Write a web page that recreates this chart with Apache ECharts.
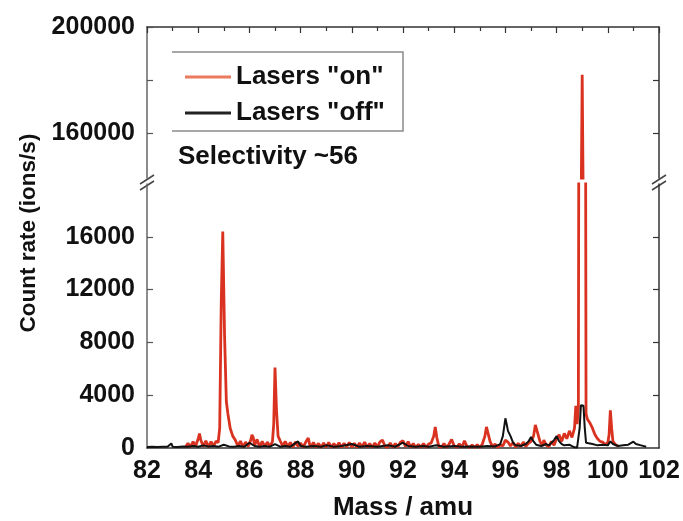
<!DOCTYPE html>
<html><head><meta charset="utf-8">
<script src="https://cdn.jsdelivr.net/npm/echarts@6/dist/echarts.min.js"></script>
<style>html,body{margin:0;padding:0;background:#fff}#c{width:683px;height:521px}</style>
</head><body><div id="c"></div>
<script>
// ---- data ----
const onMass = [83.5,83.6,83.7,83.8,83.9,84.0,84.05,84.1,84.2,84.3,84.4,84.5,84.6,84.7,84.78,84.84,84.9,84.96,85.03,85.1,85.16,85.25,85.35,85.45,85.55,85.65,85.75,85.85,85.95,86.05,86.1,86.15,86.2,86.3,86.4,86.5,86.6,86.7,86.8,86.9,86.95,87.0,87.06,87.12,87.2,87.3,87.4,87.5,87.6,87.7,87.8,87.9,88.0,88.1,88.2,88.3,88.35,88.4,88.5,88.6,88.7,88.8,88.9,89.0,89.1,89.2,89.3,89.4,89.5,89.6,89.7,89.8,89.9,90.0,90.1,90.2,90.3,90.4,90.5,90.6,90.7,90.8,90.9,91.0,91.1,91.2,91.3,91.4,91.5,91.6,91.7,91.8,91.9,92.0,92.1,92.2,92.3,92.4,92.5,92.6,92.7,92.8,92.9,93.0,93.1,93.2,93.26,93.32,93.4,93.5,93.6,93.7,93.8,93.9,94.0,94.1,94.2,94.3,94.4,94.5,94.6,94.7,94.8,94.9,95.0,95.1,95.2,95.26,95.32,95.4,95.5,95.6,95.7,95.8,95.9,96.0,96.1,96.2,96.3,96.4,96.5,96.6,96.7,96.8,96.9,97.0,97.1,97.17,97.25,97.35,97.45,97.5,97.6,97.7,97.8,97.9,98.0,98.1,98.2,98.3,98.4,98.5,98.6,98.7,98.75,98.8,98.85,99.0,99.15,99.2,99.3,99.4,99.5,99.6,99.7,99.8,99.9,100.0,100.05,100.1,100.15,100.2,100.3,100.4];
const onCount = [60,350,90,480,150,700,1100,600,120,550,80,480,150,520,400,1500,11000,16400,8500,3500,2600,1500,900,600,150,520,80,450,120,580,1000,800,200,650,90,500,100,450,120,480,1800,6100,2800,900,550,150,500,100,420,60,470,120,380,60,450,750,300,80,420,50,350,40,380,60,420,40,330,70,400,50,350,80,420,60,360,40,380,80,450,60,330,50,380,90,460,600,120,50,380,40,330,80,440,550,100,480,60,330,40,280,60,330,50,300,380,900,1600,800,120,60,330,40,300,650,150,50,320,40,550,120,40,230,30,260,40,300,900,1600,1500,500,80,300,40,250,150,600,450,150,420,60,350,100,450,120,350,500,900,1750,1200,500,150,600,200,100,500,200,700,1000,500,1100,700,1300,800,1500,3200,1800,3000,182000,2600,2200,1900,1500,1000,700,500,450,250,400,1000,2850,1500,500,250,150];
const offMass = [82.0,82.2,82.4,82.6,82.8,82.95,83.0,83.2,83.4,83.6,83.8,84.0,84.2,84.4,84.6,84.8,85.0,85.2,85.4,85.6,85.8,86.0,86.2,86.4,86.6,86.8,87.0,87.2,87.4,87.6,87.9,88.0,88.2,88.5,88.8,89.0,89.3,89.6,90.0,90.3,90.6,91.0,91.4,91.7,92.0,92.2,92.5,92.8,93.0,93.3,93.6,94.0,94.3,94.6,95.0,95.3,95.6,95.8,95.9,96.0,96.05,96.1,96.2,96.3,96.4,96.6,96.8,96.9,97.0,97.1,97.2,97.4,97.6,97.7,97.9,98.0,98.1,98.2,98.3,98.5,98.6,98.7,98.8,98.9,98.95,99.05,99.1,99.15,99.2,99.4,99.6,99.8,100.0,100.1,100.2,100.4,100.6,100.8,101.0,101.1,101.3,101.5];
const offCount = [80,100,80,100,90,350,100,80,120,90,150,100,200,120,150,100,250,120,100,150,100,400,150,100,150,100,300,100,150,100,500,150,100,150,100,200,100,150,300,100,150,100,200,100,400,150,100,150,100,200,100,150,100,120,100,150,120,300,900,2250,1800,1300,900,400,200,150,300,500,830,500,250,150,300,200,600,900,500,300,200,250,150,50,30,1500,3250,3200,1500,400,250,300,200,250,200,500,300,150,200,250,480,300,200,100];
const xTickLabels = [82,84,86,88,90,92,94,96,98,100,102];
const lowerTickLabels = [0,4000,8000,12000,16000];
const lowerInnerTicks = [4000,8000,12000,16000];
const upperTickLabels = [160000,200000];
const upperTicks = [160000,180000,200000];
const seriesNames = ['Lasers "on"','Lasers "off"'];
const annotationText = 'Selectivity ~56';
const yTitle = 'Count rate (ions/s)';
const xTitle = 'Mass / amu';

function pairs(xs, ys){ return xs.map((x,i)=>[x, ys[i]]); }
const onData = pairs(onMass, onCount);
const offData = pairs(offMass, offCount);

const FONT = '"Liberation Sans", Arial, sans-serif';
const RED = '#da3220';
const BLACK = '#111111';
const AX = '#333333';
const plain = v => String(v);
const lab = {fontSize:25, fontWeight:'bold', color:'#111', fontFamily:FONT, formatter:plain};

const chart = echarts.init(document.getElementById('c'), null, {renderer:'canvas'});
chart.setOption({
  animation:false,
  backgroundColor:'#fff',
  title:{text:annotationText, left:178, top:144, padding:0,
    textStyle:{fontSize:26, fontWeight:'bold', color:'#111', fontFamily:FONT}},
  legend:{
    left:172, top:52, orient:'vertical', padding:[12,10,12,13], itemGap:10,
    itemWidth:46, itemHeight:3,
    textStyle:{fontSize:26, fontWeight:'bold', color:'#111', fontFamily:FONT},
    data:[{name:seriesNames[0], icon:'rect', itemStyle:{color:'#ec7a5c'}},
          {name:seriesNames[1], icon:'rect', itemStyle:{color:'#222'}}]
  },
  grid:[
    {left:147, right:24, top:27, height:151, outerBoundsMode:'none', containLabel:false},
    {left:147, right:24, top:184, height:264, outerBoundsMode:'none', containLabel:false}
  ],
  xAxis:[
    {gridIndex:0, type:'value', min:82, max:102, interval:2, position:'top',
     axisLine:{show:true, lineStyle:{color:AX, width:1.5}},
     axisTick:{show:true, inside:true, length:6, lineStyle:{color:AX, width:1.2}},
     minorTick:{show:true, splitNumber:2, length:4, lineStyle:{color:AX, width:1.2}},
     axisLabel:{show:false}, splitLine:{show:false}},
    {gridIndex:1, type:'value', min:82, max:102, interval:2, position:'bottom',
     axisLine:{show:true, onZero:false, lineStyle:{color:AX, width:1.5}},
     axisTick:{show:false},
     axisLabel:Object.assign({margin:11, customValues:xTickLabels}, lab),
     splitLine:{show:false},
     name:xTitle, nameLocation:'middle', nameGap:47,
     nameTextStyle:{fontSize:26, fontWeight:'bold', color:'#111', fontFamily:FONT}}
  ],
  yAxis:[
    {gridIndex:0, type:'value', min:143000, max:200000, position:'left',
     axisLine:{show:true, lineStyle:{color:'#666', width:1.5}},
     axisTick:{show:true, inside:true, length:6, customValues:upperTicks, lineStyle:{color:'#555', width:1.2}},
     axisLabel:Object.assign({margin:12, customValues:upperTickLabels, showMaxLabel:true}, lab),
     splitLine:{show:false}},
    {gridIndex:0, type:'value', min:143000, max:200000, position:'right',
     axisLine:{show:true, lineStyle:{color:AX, width:1.5}},
     axisTick:{show:true, inside:true, length:6, customValues:upperTicks.slice(0,2), lineStyle:{color:AX, width:1.2}},
     axisLabel:{show:false}, splitLine:{show:false}},
    {gridIndex:1, type:'value', min:0, max:20000, position:'left',
     axisLine:{show:true, lineStyle:{color:'#666', width:1.5}},
     axisTick:{show:true, inside:true, length:6, customValues:lowerInnerTicks, lineStyle:{color:'#555', width:1.2}},
     axisLabel:Object.assign({margin:12, customValues:lowerTickLabels}, lab),
     splitLine:{show:false}},
    {gridIndex:1, type:'value', min:0, max:20000, position:'right',
     axisLine:{show:true, lineStyle:{color:AX, width:1.5}},
     axisTick:{show:true, inside:true, length:6, customValues:lowerInnerTicks, lineStyle:{color:AX, width:1.2}},
     axisLabel:{show:false}, splitLine:{show:false}}
  ],
  series:[
    {name:seriesNames[0], type:'line', xAxisIndex:0, yAxisIndex:0, data:onData,
     symbol:'none', lineStyle:{color:RED, width:2.8}, itemStyle:{color:RED}},
    {name:seriesNames[0], type:'line', xAxisIndex:1, yAxisIndex:2, data:onData,
     symbol:'none', lineStyle:{color:RED, width:2.8}, itemStyle:{color:RED}},
    {name:seriesNames[1], type:'line', xAxisIndex:1, yAxisIndex:2, data:offData,
     symbol:'none', lineStyle:{color:BLACK, width:2}, itemStyle:{color:BLACK}}
  ],
  graphic:[
    {type:'polyline', shape:{points:[[172,52],[403,52],[403,131],[172,131]]},
     style:{stroke:'#8a8a8a', lineWidth:1.5, fill:null}},
    {type:'text', x:29, y:233, rotation:Math.PI/2,
     style:{text:yTitle, font:'bold 22.5px "Liberation Sans", Arial, sans-serif', fill:'#111',
            align:'center', verticalAlign:'middle', textAlign:'center', textVerticalAlign:'middle'}},
    {type:'line', shape:{x1:140, y1:184, x2:154, y2:175}, style:{stroke:'#444', lineWidth:1.5}},
    {type:'line', shape:{x1:140, y1:190, x2:154, y2:181}, style:{stroke:'#444', lineWidth:1.5}},
    {type:'line', shape:{x1:652, y1:184, x2:666, y2:175}, style:{stroke:'#444', lineWidth:1.5}},
    {type:'line', shape:{x1:652, y1:190, x2:666, y2:181}, style:{stroke:'#444', lineWidth:1.5}}
  ]
});
</script></body></html>
